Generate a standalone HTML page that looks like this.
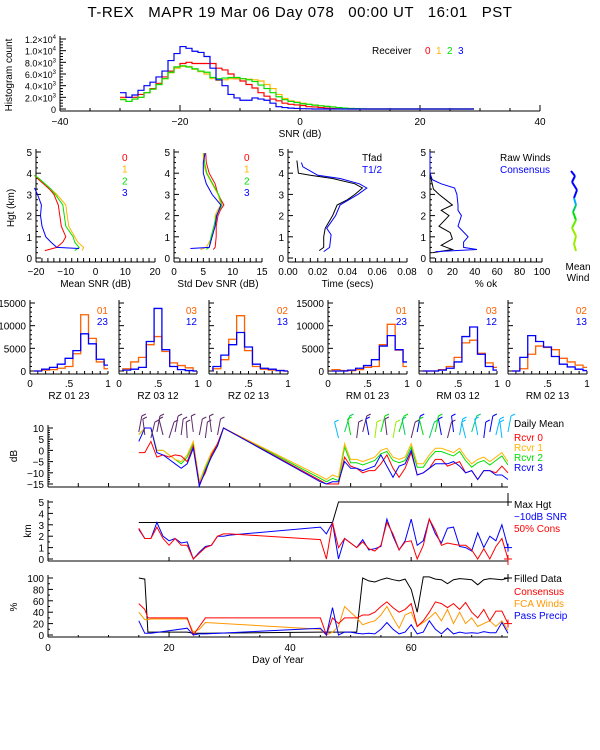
<!DOCTYPE html>
<html><head><meta charset="utf-8"><title>T-REX MAPR</title>
<style>
html,body{margin:0;padding:0;background:#fff;}
svg{display:block;font-family:"Liberation Sans",sans-serif;}
text{font-size:10px;fill:#000;}
</style></head>
<body>
<svg id="chart" width="600" height="750" viewBox="0 0 600 750" xmlns="http://www.w3.org/2000/svg">
<rect x="0" y="0" width="600" height="750" fill="#fff"/>
<text x="300" y="17" text-anchor="middle" style="font-size:15px;letter-spacing:0.5px" xml:space="preserve">T-REX   MAPR 19 Mar 06 Day 078   00:00 UT   16:01   PST</text>
</svg>
<script>
// ---------- DATA ----------
const snrStart = -30;
const histRed = [2000,2000,2000,2500,2800,3500,4400,5500,6500,7200,7800,8000,7800,7800,7800,7800,7000,6700,6000,5200,4800,4200,3600,2800,2200,1700,1400,1000,800,700,600,400,350,250,150,80,40,20,0,0,0,0,0];
const histOrange = [1700,1300,1700,2000,2800,3400,4200,5200,6200,7000,7300,7300,6800,6400,6000,5200,4900,5000,5200,5200,5200,5100,5000,4800,4200,3500,2500,1800,1400,1200,1000,800,700,550,450,350,250,150,100,50,0,0,0];
const histGreen = [1600,1300,1700,2000,2800,3400,4200,5200,6300,7200,7400,7200,6900,6500,6300,5400,5200,5300,5400,5400,5200,5000,4700,4100,3500,2800,2100,1600,1300,1100,900,800,650,550,450,350,250,150,100,60,30,0,0];
const histBlue = [2800,2000,2400,3200,4000,4600,5500,6500,8300,9500,10700,10400,9900,9700,9000,7000,5000,4000,2500,1900,1500,1500,1900,1700,1500,1000,400,250,150,100,50,30,0,0,0,0,0,0,0,0,0,0,0];
const histYTicks = [0,2000,4000,6000,8000,10000,12000];
const histYLabels = ['0','2.0×10|3','4.0×10|3','6.0×10|3','8.0×10|3','1.0×10|4','1.2×10|4'];
const histXTicks = [-40,-20,0,20,40];

const hMean = [0.35,0.5,0.75,1,1.5,2,2.5,3,3.25,3.5,3.75,3.9];
const meanRed = [-17,-13,-11,-10,-11.5,-12,-12.5,-14,-15.5,-17.5,-19.5,-20.5];
const meanOrange = [-4.5,-4,-6,-7,-9,-9.5,-10,-13,-15,-17,-19,-20.5];
const meanGreen = [-7,-5.5,-7,-7.5,-10,-10.5,-11,-13.5,-15,-17,-19,-20.5];
const hMeanBlue = [0.45,0.5,0.75,1,1.5,2,2.5,3,3.3];
const meanBlue = [-5.5,-13,-15,-16.7,-18,-18.5,-18.2,-19.5,-20.5];
const hStd = [0.4,0.5,1,1.5,2,2.3,2.5,3,3.5,4,4.5,4.95];
const stdRed = [6.7,7,7.2,7.2,7.5,8,8.5,7.5,7,6,5.5,5.4];
const stdOrange = [4.5,5.5,6.5,7,7,7.5,8,7.5,6.5,5.5,5,5];
const stdGreen = [5.5,6,6.3,6.8,7.2,7.8,8.2,7.6,6.6,5.6,5.2,5.1];
const hStdBlue = [0.45,0.5,1,1.5,2,2.5,3,3.5,4,4.5,4.95];
const stdBlue = [2.8,6,6.5,7,7.3,8,6.5,5.5,5,5,5.3];
const hTime = [0.35,0.5,1,1.4,2,2.5,2.75,3,3.3,3.5,3.75,3.9,4,4.6];
const tfad = [0.021,0.024,0.024,0.025,0.030,0.033,0.040,0.045,0.050,0.045,0.030,0.015,0.007,0.006];
const hHalf = [0.3,0.5,1.1,1.4,2,2.5,3,3.3,3.5,3.75,3.9,4.3,4.5];
const thalf = [0.024,0.028,0.029,0.026,0.032,0.035,0.047,0.053,0.048,0.035,0.020,0.010,0.009];
const hOk = [0.25,0.4,0.6,0.9,1.2,1.5,2,2.25,2.5,2.75,3,3.25,3.5,4];
const okRaw = [2,20,10,20,18,8,17,10,20,14,8,3,2,0];
const hOkC = [0.3,0.4,0.5,0.75,1,1.5,2,2.25,2.5,3,3.3,3.5,3.7,4,5];
const okCons = [5,42,30,30,34,25,28,25,25,24,22,10,2,0,0];

const rCenters = [0.1,0.2,0.3,0.4,0.5,0.6,0.7,0.8,0.9,1.0];
const rz0123a = [0,200,300,600,1000,3800,12400,7200,2000,500];
const rz0123b = [0,400,800,1500,2800,4500,8200,6000,2600,1300];
const rz0312a = [500,2000,3000,5800,7600,4300,1800,1200,700,0];
const rz0312b = [200,400,800,6500,13800,4700,1000,300,100,0];
const rz0213a = [500,2500,7000,12200,4500,1000,400,200,100,0];
const rz0213b = [1000,3500,5800,8500,5300,1500,600,400,100,0];
const rm0123a = [300,100,100,300,800,1000,5800,10300,4600,1000];
const rm0123b = [0,0,200,600,1200,2500,5500,7800,4700,2000];
const rm0312a = [0,0,300,1000,3000,6200,6800,3900,1800,800];
const rm0312b = [0,0,200,600,2000,7600,9700,3700,1000,200];
const rm0213a = [0,500,3700,5500,5200,4700,2800,2000,1300,800];
const rm0213b = [0,3000,7800,6500,5300,3200,1500,900,400,100];

const days = [15,16,17,18,19,20,21,22,23,24,25,26,27,28,29,45,46,47,48,49,50,51,52,53,54,55,56,57,58,59,60,61,62,63,64,65,66,67,68,69,70,71,72,73,74,75,76];
const dbRed = [-1,-1,4,-3,-2,-3,-2,-2.5,-5,2,-15,-10,-2,3,10,-13.5,-15,-15,-15,-3,-7,-8,-10,-9,-9,-6,-2,-8,-12,-8,-1,-11,-10,-8,-4,-4,-7,-6,-5,-10,-9,-13,-9,-9,-10,-7,-10];
const dbOrange = [7,10,10,0,0,-2,-4,-5,-2,4,-14,-7,-1,3,10,-11.5,-13,-11,-12,3,-4,-4,-5,-4,-3,0,1,-3,-4,-3,3,-6,-6,-2,1,1,0,-1,1,-3,-6,-4,-3,-5,-3,-1,-5];
const dbGreen = [7,10,10,0,0,-2,-4,-6,-3,3,-14,-8,-2,2,10,-12.5,-14,-12.5,-13.5,1.5,-5.5,-5.5,-6.5,-5.5,-4.5,-1.5,-0.5,-4.5,-5.5,-4.5,1.5,-7.5,-7.5,-3.5,-0.5,-0.5,-1.5,-2.5,-0.5,-4.5,-7.5,-5.5,-4.5,-6.5,-4.5,-2.5,-6.5];
const dbBlue = [4,10,10,-1,-2,-4,-6,-8,-6,1,-16,-9,-3,2,10,-14,-15,-14,-14,-5,-8,-8,-9,-8,-7,-2,-7,-12,-7,-6,0,-11,-10,-8,-6,-6,-6,-5,-7,-10,-9,-13,-9,-9,-11,-11,-13];
const kmDays = [15,16,17,18,19,20,21,22,23,24,25,26,27,28,29,30,45,46,47,48,49,50,51,52,53,54,55,56,57,58,59,60,61,62,63,64,65,66,67,68,69,70,71,72,73,74,75,76];
const kmBlue = [2.6,1.8,1.8,3.2,2.0,1.6,1.8,1.4,1.5,0,0.6,1.1,1.2,2.0,2.0,2.1,2.8,2.2,3.2,0,1.8,1.4,1.0,1.7,0.8,0.9,1.1,3.5,2.0,0.8,1.6,3.5,1.2,1.6,3.5,2.2,1.4,2.7,2.8,1.1,1.0,0.7,2.3,1.0,2.0,1.6,3.0,1.0];
const kmRed = [2.7,1.8,1.8,2.8,1.8,1.2,1.8,1.2,1.2,0,0.5,1.0,1.2,2.0,2.2,2.2,1.7,0,3.2,1.0,1.8,1.4,1.0,1.5,0.9,0.7,1.2,3.2,2.2,0.8,1.5,1.6,0,1.2,3.5,2.5,1.2,1.4,1.3,1.2,1.2,0.8,0,0.9,0,1.1,1.8,0];
const maxDays = [15,47,48,76];
const maxHgt = [3.2,3.2,5,5];
const pctDays = [15,16,16.5,17,23,24,25,26,45,46,47,48,49,50,51,52,53,54,55,56,57,58,59,60,61,62,63,64,65,66,67,68,69,70,71,72,73,74,75,76];
const pctFilled = [100,98,5,5,5,3,3,3,5,5,5,5,5,5,5,100,95,93,97,100,97,95,98,80,40,102,102,98,97,90,97,99,98,97,88,97,99,98,97,100];
const pctCons = [55,45,30,30,30,0,15,30,30,0,30,20,30,30,30,35,35,40,50,58,48,40,45,55,15,25,40,58,55,48,55,45,57,40,30,45,25,42,42,20];
const pctFca = [40,27,27,28,28,5,10,22,10,0,5,15,50,40,30,18,22,25,35,50,30,12,35,40,15,22,30,40,25,45,20,40,20,30,15,20,25,15,25,8];
const pctPrecip = [25,3,3,3,12,0,2,2,12,0,48,0,5,5,3,2,3,2,10,22,10,2,5,18,2,5,25,10,2,12,2,5,3,4,3,6,4,4,22,3];

// ---------- DRAWING ----------
const NS = 'http://www.w3.org/2000/svg';
const svg = document.getElementById('chart');
function mk(tag, name, parent) {
  const e = document.createElementNS(NS, tag);
  
  
  (parent || svg).appendChild(e);
  return e;
}
function line(x1,y1,x2,y2,name,color,w){const e=mk('line',name);e.setAttribute('x1',x1);e.setAttribute('y1',y1);e.setAttribute('x2',x2);e.setAttribute('y2',y2);e.setAttribute('stroke',color||'#000');e.setAttribute('stroke-width',w||1);return e;}
function text(x,y,s,name,opts){opts=opts||{};const e=mk('text',name);e.setAttribute('x',x);e.setAttribute('y',y);if(opts.anchor)e.setAttribute('text-anchor',opts.anchor);let st='';if(opts.color)st+='fill:'+opts.color+';';if(opts.size)st+='font-size:'+opts.size+'px;';if(st)e.setAttribute('style',st);if(opts.rot)e.setAttribute('transform','rotate(-90 '+x+' '+y+')');e.textContent=s;return e;}
function poly(xs,ys,fx,fy,name,color){const e=mk('polyline',name);let p=[];for(let i=0;i<xs.length;i++)p.push(fx(xs[i]).toFixed(1)+','+fy(ys[i]).toFixed(1));e.setAttribute('points',p.join(' '));e.setAttribute('fill','none');e.setAttribute('stroke',color);e.setAttribute('stroke-width',1);return e;}
function lin(d0,d1,p0,p1){return v=>p0+(v-d0)*(p1-p0)/(d1-d0);}

// ---- Top histogram ----
(function(){
  const fx=lin(-40,40,60,540), fy=lin(0,12000,109,39);
  line(60,111,540,111,'snr-x-axis');
  line(60,36,60,111,'histogram-y-axis');
  for(let v=-40;v<=40;v+=5){const m=v%20===0;line(fx(v),111,fx(v),111-(m?6:3),'snr-x-tick');}
  histXTicks.forEach(v=>text(fx(v),125,String(v).replace('-','−'),'snr-x-tick-label',{anchor:'middle'}));
  text(300,137,'SNR (dB)','snr-x-axis-title',{anchor:'middle'});
  for(let v=0;v<=12000;v+=500){const m=v%2000===0;line(60,fy(v),60+(m?6:3),fy(v),'histogram-y-tick');}
  histYTicks.forEach((v,i)=>{const parts=histYLabels[i].split('|');const t=text(56,fy(v)+4,parts[0],'histogram-y-tick-label',{anchor:'end',size:9});if(parts[1]){t.textContent='';t.appendChild(document.createTextNode(parts[0]));const s=document.createElementNS(NS,'tspan');s.setAttribute('dy','-4');s.setAttribute('style','font-size:6px');s.textContent=parts[1];t.appendChild(s);}});
  text(12,75,'Histogram count','histogram-y-axis-title',{anchor:'middle',rot:true});
  function step(vals,name,color){let d='';for(let i=0;i<vals.length;i++){const x0=fx(snrStart+i),x1=fx(snrStart+i+1),y=fy(vals[i]);d+=(i===0?'M'+x0+','+y:'V'+y)+'H'+x1;}d+='H'+fx(29);const e=mk('path',name);e.setAttribute('d',d);e.setAttribute('fill','none');e.setAttribute('stroke',color);e.setAttribute('stroke-width',1.2);}
  step(histRed,'hist-receiver-0','#ff0000');
  step(histOrange,'hist-receiver-1','#ffb400');
  step(histGreen,'hist-receiver-2','#00e000');
  step(histBlue,'hist-receiver-3','#0000ff');
  text(372,54,'Receiver','receiver-legend-title');
  text(425,54,'0','legend-receiver-0',{color:'#ff0000'});
  text(436,54,'1','legend-receiver-1',{color:'#ffb400'});
  text(447,54,'2','legend-receiver-2',{color:'#00e000'});
  text(458,54,'3','legend-receiver-3',{color:'#0000ff'});
})();

// ---- Profile panels ----
const fh=lin(0,5,258,152);
function profAxes(x0,x1,d0,d1,ticks,labels,minor,title,pname){
  line(x0,149,x0,262,pname+'-y-axis');
  line(x0,262,x1,262,pname+'-x-axis');
  for(let h=0;h<=5;h+=0.25){const m=Math.abs(h-Math.round(h))<1e-6;line(x0,fh(h),x0+(m?5:2),fh(h),pname+'-y-tick');if(m)text(x0-4,fh(h)+4,String(h),pname+'-y-tick-label',{anchor:'end'});}
  const fx=lin(d0,d1,x0,x1);
  for(let v=d0;v<=d1+1e-9;v+=minor){line(fx(v),262,fx(v),258,pname+'-x-tick');}
  ticks.forEach((v,i)=>text(fx(v),275,labels[i],pname+'-x-tick-label',{anchor:'middle'}));
  text((x0+x1)/2,287,title,pname+'-x-axis-title',{anchor:'middle'});
  return fx;
}
text(14,208,'Hgt (km)','height-axis-title',{anchor:'middle',rot:true});
(function(){
  const fx=profAxes(36,155,-20,20,[-20,-10,0,10,20],['−20','−10','0','10','20'],2,'Mean SNR (dB)','mean-snr');
  poly(meanRed,hMean,fx,fh,'mean-snr-rcvr-0','#ff0000');
  poly(meanOrange,hMean,fx,fh,'mean-snr-rcvr-1','#ffb400');
  poly(meanGreen,hMean,fx,fh,'mean-snr-rcvr-2','#00e000');
  poly(meanBlue,hMeanBlue,fx,fh,'mean-snr-rcvr-3','#0000ff');
  const c=['#ff0000','#ffb400','#00e000','#0000ff'];
  for(let i=0;i<4;i++)text(122,161+i*11.7,String(i),'mean-snr-legend-'+i,{color:c[i]});
  const fx2=profAxes(174,262,0,15,[0,5,10,15],['0','5','10','15'],1,'Std Dev SNR (dB)','std-snr');
  poly(stdRed,hStd,fx2,fh,'std-snr-rcvr-0','#ff0000');
  poly(stdOrange,hStd,fx2,fh,'std-snr-rcvr-1','#ffb400');
  poly(stdGreen,hStd,fx2,fh,'std-snr-rcvr-2','#00e000');
  poly(stdBlue,hStdBlue,fx2,fh,'std-snr-rcvr-3','#0000ff');
  for(let i=0;i<4;i++)text(244,161+i*11.7,String(i),'std-snr-legend-'+i,{color:c[i]});
  const fx3=profAxes(288,407,0,0.08,[0,0.02,0.04,0.06,0.08],['0.00','0.02','0.04','0.06','0.08'],0.005,'Time (secs)','time');
  poly(tfad,hTime,fx3,fh,'tfad-profile','#000');
  poly(thalf,hHalf,fx3,fh,'thalf-profile','#0000ff');
  text(362,161,'Tfad','tfad-legend');
  text(362,173,'T1/2','thalf-legend',{color:'#0000ff'});
  const fx4=profAxes(430,542,0,100,[0,20,40,60,80,100],['0','20','40','60','80','100'],5,'% ok','pct-ok');
  poly(okRaw,hOk,fx4,fh,'raw-winds-profile','#000');
  poly(okCons,hOkC,fx4,fh,'consensus-profile','#0000ff');
  text(500,161,'Raw Winds','raw-winds-legend');
  text(500,173,'Consensus','consensus-legend',{color:'#0000ff'});
  const mw=[[571,171,'#0000ff'],[575,176,'#0000ff'],[572,182,'#0000ff'],[577,190,'#0000ff'],[574,198,'#0000ff'],[576,205,'#00aaff'],[573,212,'#00cc66'],[576,220,'#00e000'],[572,228,'#66ee00'],[576,236,'#99ee00'],[574,244,'#99ee00'],[576,251,'#99ee00']];
  for(let i=1;i<mw.length;i++)line(mw[i-1][0],mw[i-1][1],mw[i][0],mw[i][1],'mean-wind-segment',mw[i][2],2);
  text(578,270,'Mean','mean-wind-label',{anchor:'middle'});
  text(578,281,'Wind','mean-wind-label',{anchor:'middle'});
})();

// ---- Correlation histograms ----
(function(){
  const fy=lin(0,15000,371,303);
  const panels=[[30,108,rz0123a,rz0123b,'RZ   01  23','01','23',true],[119,197,rz0312a,rz0312b,'RZ   03  12','03','12',false],[209,288,rz0213a,rz0213b,'RZ   02  13','02','13',false],[328,407,rm0123a,rm0123b,'RM   01  23','01','23',true],[419,497,rm0312a,rm0312b,'RM   03  12','03','12',false],[508,587,rm0213a,rm0213b,'RM   02  13','02','13',false]];
  panels.forEach((p,k)=>{
    const [x0,x1,a,b,title,la,lb,lab]=p, fx=lin(0,1,x0,x1), nm='corr-panel-'+(k+1);
    line(x0,300,x0,374,nm+'-y-axis');line(x0,374,x1,374,nm+'-x-axis');
    for(let v=0;v<=15000;v+=1000){const m=v%5000===0;line(x0,fy(v),x0+(m?5:2),fy(v),nm+'-y-tick');if(m&&lab)text(x0-4,fy(v)+4,String(v),nm+'-y-tick-label',{anchor:'end'});}
    for(let v=0;v<=1.0001;v+=0.1)line(fx(v),374,fx(v),371,nm+'-x-tick');
    text(fx(0),387,'0',nm+'-x-tick-label',{anchor:'middle'});
    text(fx(0.5),387,'.5',nm+'-x-tick-label',{anchor:'middle'});
    text(fx(1),387,'1',nm+'-x-tick-label',{anchor:'middle'});
    text((x0+x1)/2,399,title,nm+'-title',{anchor:'middle'});
    function step(vals,name,color){let d='';for(let i=0;i<vals.length;i++){const e0=Math.max(0,rCenters[i]-0.05),e1=Math.min(1,rCenters[i]+0.05),y=fy(vals[i]);d+=(i===0?'M'+fx(e0)+','+fy(0)+'V'+y:'V'+y)+'H'+fx(e1);}const e=mk('path',name);e.setAttribute('d',d);e.setAttribute('fill','none');e.setAttribute('stroke',color);e.setAttribute('stroke-width',1.3);}
    step(a,nm+'-pair-a','#ff6000');
    step(b,nm+'-pair-b','#0000ff');
    text(x1,314,la,nm+'-legend-a',{anchor:'end',color:'#ff6000'});
    text(x1,325,lb,nm+'-legend-b',{anchor:'end',color:'#0000ff'});
  });
})();

// ---- Daily time series ----
const fd=lin(0,76,48,508);
(function(){
  const fy=lin(10,-15,428,484);
  line(48,425,48,487,'daily-db-y-axis');line(48,487,508,487,'daily-db-x-axis');
  for(let v=-15;v<=10;v+=1){const m=v%5===0;line(48,fy(v),48+(m?5:2),fy(v),'daily-db-y-tick');if(m)text(44,fy(v)+4,String(v).replace('-','−'),'daily-db-y-tick-label',{anchor:'end'});}
  for(let d=0;d<=75;d+=5)line(fd(d),487,fd(d),483,'daily-db-x-tick');
  line(508,493,508,500,'end-marker');
  text(17,456,'dB','db-axis-title',{anchor:'middle',rot:true});
  poly(days,dbGreen,fd,fy,'daily-rcvr-2','#00e000');
  poly(days,dbOrange,fd,fy,'daily-rcvr-1','#ffb400');
  poly(days,dbRed,fd,fy,'daily-rcvr-0','#ff0000');
  poly(days,dbBlue,fd,fy,'daily-rcvr-3','#0000ff');
  const barbDays=[15,16,17,18,19,20,21,22,23,24,25,26,27,28,48,49,50,51,52,53,54,55,56,57,58,59,60,61,62,63,64,65,66,67,68,69,70,71,72,73,74,75,76];
  const barbDx=[3,-2,4,3,-4,5,3,2,-1,-2,3,2,-2,3,-4,5,-3,2,4,-3,2,4,-2,3,5,-3,4,3,-4,5,3,-3,4,-2,3,-4,5,-3,2,3,4,-2,3];
  const barbColor=['#5a2a6a','#5a2a6a','#5a2a6a','#5a2a6a','#5a2a6a','#5a2a6a','#5a2a6a','#5a2a6a','#5a2a6a','#5a2a6a','#5a2a6a','#5a2a6a','#5a2a6a','#5a2a6a','#00bbff','#00cc66','#00e000','#5a2a6a','#5a2a6a','#0000ff','#99ee00','#00e000','#5a2a6a','#99ee00','#00e000','#00cc66','#5a2a6a','#0000ff','#00e000','#00cc66','#00e000','#0000ff','#5a2a6a','#0000ff','#00bbff','#00bbff','#00cc66','#00bbff','#0000ff','#0000ff','#00bbff','#00bbff','#00bbff'];
  barbDays.forEach((d,i)=>{const x=fd(d),y=fy(10)+4+(i%3)*3;line(x,y,x+barbDx[i],y-16,'wind-barb',barbColor[i]);line(x+barbDx[i],y-16,x+barbDx[i]+4,y-18,'wind-barb-flag',barbColor[i]);});
  text(514,427,'Daily Mean','daily-mean-legend');
  text(514,441,'Rcvr 0','legend-rcvr-0',{color:'#ff0000'});
  text(514,451,'Rcvr 1','legend-rcvr-1',{color:'#ffb400'});
  text(514,461,'Rcvr 2','legend-rcvr-2',{color:'#00e000'});
  text(514,471,'Rcvr 3','legend-rcvr-3',{color:'#0000ff'});
})();
(function(){
  const fy=lin(0,5,559,502);
  line(48,500,48,561,'km-y-axis');line(48,561,508,561,'km-x-axis');
  for(let v=0;v<=5;v+=0.5){const m=v%1===0;line(48,fy(v),48+(m?5:2),fy(v),'km-y-tick');if(m)text(44,fy(v)+4,String(v),'km-y-tick-label',{anchor:'end'});}
  for(let d=0;d<=75;d+=20)line(fd(d),561,fd(d),557,'km-x-tick');
  text(31,531,'km','km-axis-title',{anchor:'middle',rot:true});
  poly(maxDays,maxHgt,fd,fy,'max-height-line','#000');
  poly(kmDays,kmBlue,fd,fy,'snr-10db-height','#0000ff');
  poly(kmDays,kmRed,fd,fy,'cons-50-height','#ff0000');
  const xe=fd(76);
  line(xe-4,fy(5),xe+4,fy(5),'end-cross','#000');line(xe,fy(5)-4,xe,fy(5)+4,'end-cross','#000');
  line(xe-4,fy(1),xe+4,fy(1),'end-cross','#0000ff');line(xe,fy(1)-4,xe,fy(1)+4,'end-cross','#0000ff');
  line(xe-4,fy(0),xe+4,fy(0),'end-cross','#ff0000');line(xe,fy(0)-4,xe,fy(0)+6,'end-cross','#ff0000');
  text(514,508,'Max Hgt','max-hgt-legend');
  text(514,520,'−10dB SNR','snr-legend',{color:'#0000ff'});
  text(514,532,'50% Cons','cons-legend',{color:'#ff0000'});
})();
(function(){
  const fy=lin(0,100,635,578);
  line(48,575,48,637,'pct-y-axis');line(48,637,508,637,'pct-x-axis');
  for(let v=0;v<=100;v+=10){const m=v%20===0;line(48,fy(v),48+(m?5:2),fy(v),'pct-y-tick');if(m)text(44,fy(v)+4,String(v),'pct-y-tick-label',{anchor:'end'});}
  for(let d=0;d<=76;d+=5){const m=d%20===0;line(fd(d),637,fd(d),637-(m?5:2),'pct-x-tick');if(m)text(fd(d),651,String(d),'pct-x-tick-label',{anchor:'middle'});}
  text(17,607,'%','pct-axis-title',{anchor:'middle',rot:true});
  text(278,663,'Day of Year','day-of-year-title',{anchor:'middle'});
  poly(pctDays,pctFilled,fd,fy,'filled-data-line','#000');
  poly(pctDays,pctFca,fd,fy,'fca-winds-line','#ff9900');
  poly(pctDays,pctCons,fd,fy,'consensus-line','#ff0000');
  poly(pctDays,pctPrecip,fd,fy,'pass-precip-line','#0000ff');
  const xe=fd(76);
  line(xe-4,fy(100),xe+4,fy(100),'end-cross','#000');line(xe,fy(100)-4,xe,fy(100)+4,'end-cross','#000');
  line(xe-4,fy(20),xe+4,fy(20),'end-cross','#ff0000');line(xe,fy(20)-4,xe,fy(20)+4,'end-cross','#ff0000');
  text(514,582,'Filled Data','filled-data-legend');
  text(514,595,'Consensus','consensus-legend',{color:'#ff0000'});
  text(514,607,'FCA Winds','fca-winds-legend',{color:'#ff9900'});
  text(514,619,'Pass Precip','pass-precip-legend',{color:'#0000ff'});
})();
</script>
</body></html>
